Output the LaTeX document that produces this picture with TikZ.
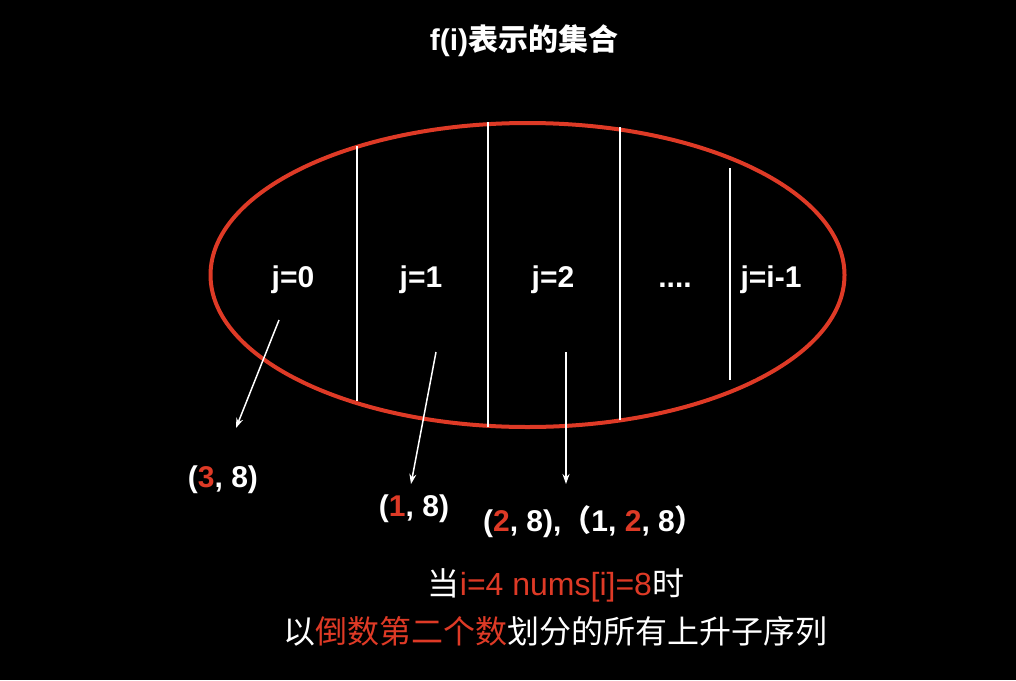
\documentclass[tikz,border=0pt]{standalone}
\usepackage{fontspec}
\setmainfont{Liberation Sans}
\newfontfamily\cjk{Noto Sans CJK SC}
\usetikzlibrary{arrows.meta}
\definecolor{setred}{RGB}{222,58,38}

\begin{document}
\begin{tikzpicture}[
	>={Stealth[length=10pt,width=7pt]},
	line width=1.5pt,
	x=1pt,y=-1pt,
	font=\fontsize{30}{30}\selectfont\bfseries,
	every node/.style={text=white, inner sep=0pt, anchor=base}
	]
	% begin background
\fill[black] (0,0) rectangle (1016,680);
\useasboundingbox (0,0) rectangle (1016,680);
% end background

% the set and its parts
\draw[setred, line width=4pt] (527.5,275) ellipse [x radius=317, y radius=152];
\foreach \x/\t/\b in {357/146/401, 488/122/427, 620/127/420, 730/168/380}
\draw[white, line width=2pt] (\x,\t) -- (\x,\b);

			\node (title_524_50)   at (524, 50) {f(i){\cjk 表示的集合}};
			\node (j0_293_287)   at (293, 287) {j=0};
			\node (j1_421_287)   at (421, 287) {j=1};
			\node (j2_553_287)   at (553, 287) {j=2};
			\node (dots_675_287)   at (675, 287) {....};
			\node (jim1_771_287)   at (771, 287) {j=i-1};
			\node (sub3_223_487)   at (223, 487) {(\textcolor{setred}{3}, 8)};
			\node (sub1_414_516)   at (414, 516) {(\textcolor{setred}{1}, 8)};
			\node (sub2_594_531)   at (594, 531) {(\textcolor{setred}{2}, 8),{\cjk （}1, \textcolor{setred}{2}, 8{\cjk ）}};
			\node[font=\fontsize{32}{32}\selectfont] (when_556_595)   at (556, 595) {{\cjk 当}\textcolor{setred}{i=4 nums[i]=8}{\cjk 时}};
			\node[font=\fontsize{32}{32}\selectfont\cjk] (split_555_643)   at (555, 643) {以\textcolor{setred}{倒数第二个数}划分的所有上升子序列};

			\coordinate (from_j0)   at (279, 320);
			\coordinate (to_sub3)   at (236, 428);
			\coordinate (from_j1)   at (436, 352);
			\coordinate (to_sub1)   at (411, 484);
			\coordinate (from_j2)   at (566, 352);
			\coordinate (to_sub2)   at (566, 484);

			\draw[->, white] (from_j0) -- (to_sub3);
			\draw[->, white] (from_j1) -- (to_sub1);
			\draw[->, white] (from_j2) -- (to_sub2);

\end{tikzpicture}
\end{document}
